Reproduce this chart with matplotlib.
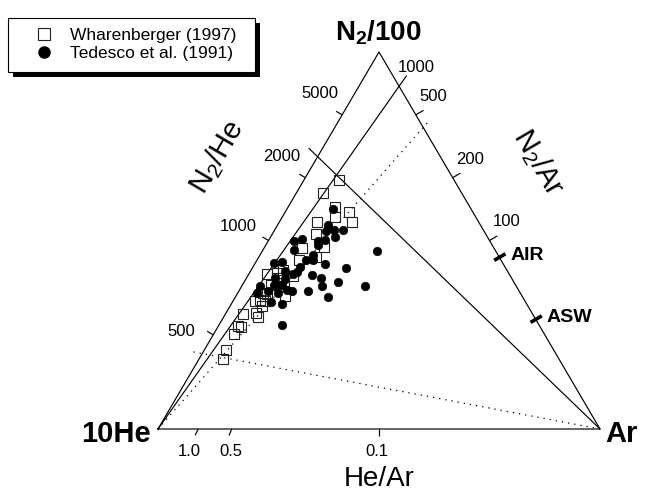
import numpy as np
import matplotlib
matplotlib.use('Agg')
import matplotlib.pyplot as plt
from matplotlib import patheffects as pe
from matplotlib.patches import Rectangle

plt.rcParams['font.family'] = ['Liberation Sans', 'DejaVu Sans']
plt.rcParams['mathtext.fontset'] = 'custom'
plt.rcParams['mathtext.rm'] = 'Liberation Sans'
plt.rcParams['mathtext.bf'] = 'Liberation Sans:bold'
plt.rcParams['mathtext.it'] = 'Liberation Sans:italic'

# ---- data: ternary percentages (N2/100, Ar); 10He = remainder ----
wh_n2 = [66.0, 62.5, 58.9, 56.2, 57.6, 55.0, 55.0, 51.7, 48.3, 48.1, 45.6, 44.8,
         41.1, 40.1, 40.6, 42.2, 37.8, 38.2, 35.8, 35.4, 34.2, 33.9, 32.7, 30.4,
         30.7, 29.8, 27.1, 27.4, 25.1, 21.0, 18.6, 33.9, 41.4, 36.0]
wh_ar = [8.0, 6.0, 10.6, 12.0, 14.3, 16.3, 8.5, 9.9, 13.3, 8.5, 12.9, 9.4,
         4.0, 6.9, 10.3, 7.2, 9.5, 6.5, 6.7, 11.0, 6.0, 4.9, 7.1, 4.1,
         6.8, 7.8, 5.2, 4.5, 4.7, 4.8, 5.5, 7.3, 6.2, 5.8]

te_n2 = [58.4, 54.1, 52.8, 52.5, 52.8, 50.8, 49.9, 50.4, 49.9, 50.1, 47.1, 47.5,
         48.8, 46.2, 44.8, 44.8, 44.0, 44.3, 43.8, 42.7, 43.0, 41.9, 41.6, 41.1,
         40.9, 40.1, 37.9, 38.9, 37.9, 37.8, 40.1, 38.3, 37.0, 38.2, 36.0, 36.5,
         36.1, 36.5, 36.5, 34.9, 33.7, 33.2, 27.7, 39.7, 38.3]
te_ar = [10.4, 11.4, 13.4, 11.8, 15.5, 14.7, 5.8, 7.4, 11.3, 12.7, 26.0, 7.0,
         11.8, 12.0, 12.7, 11.0, 4.2, 5.9, 15.9, 21.2, 10.6, 7.8, 10.6, 10.0,
         14.4, 16.9, 18.1, 21.3, 27.9, 4.2, 6.4, 8.9, 10.6, 7.8, 4.3, 6.7,
         9.2, 12.0, 15.7, 20.9, 8.8, 11.5, 14.2, 8.9, 7.0]

he_ar_ticks = [1.0, 0.5, 0.1]
he_ar_labels = ['1.0', '0.5', '0.1']
n2_he_ticks = [5000, 2000, 1000, 333]
n2_he_labels = ['5000', '2000', '1000', '500']
n2_ar_ticks = [1000, 500, 200, 100]
n2_ar_labels = ['1000', '500', '200', '100']
ref_names = ['AIR', 'ASW']
ref_n2_ar = [83.6, 41.0]
he_line_ratios = [1000, 400]     # N2/Ar lines from 10He apex
ar_line_ratios = [2600, 250]     # N2/He lines from Ar apex
line_styles = ['-', ':']

# ---- geometry (pixel frame of the 646x492 canvas) ----
X0, XW, Y0, YH = 158.0, 442.0, 429.0, 377.0

def tern(n, a):
    return a + n / 2.0, n

def to_px(X, Y):
    return X0 + XW * X, Y0 - YH * Y

def from_px(px, py):
    return (px - X0) / XW, (Y0 - py) / YH

fig = plt.figure(figsize=(6.46, 4.92), dpi=100)
ax = fig.add_axes([0, 0, 1, 1])
ax.set_xlim(-X0 / XW, (646 - X0) / XW)
ax.set_ylim((Y0 - 492) / YH, Y0 / YH)
ax.axis('off')

lw = 0.85
ax.plot([0, 1, 0.5, 0], [0, 0, 1, 0], color='k', lw=lw, zorder=2)

def dotted(style):
    return (0, (1, 4)) if style == ':' else '-'

ext = {'-': 1.03, ':': 1.025}
for R, st in zip(he_line_ratios, line_styles):
    r = R / 100.0
    k = ext[st]
    X, Y = tern(k * r / (1 + r), k / (1 + r))
    ax.plot([0, X], [0, Y], color='k', lw=lw if st == '-' else 0.9,
            linestyle=dotted(st), zorder=2)
for R, st in zip(ar_line_ratios, line_styles):
    r = R / 1000.0
    s = ext[st]
    X, Y = tern(s * r / (1 + r), 1 - s)
    ax.plot([1, X], [0, Y], color='k', lw=lw if st == '-' else 0.9,
            linestyle=dotted(st), zorder=2)

apex_px = np.array(to_px(0.5, 1.0))
he_px = np.array(to_px(0, 0))
ar_px = np.array(to_px(1, 0))

def seg(p, u, l0, l1, **kw):
    a = p + u * l0
    b = p + u * l1
    A = from_px(*a)
    B = from_px(*b)
    ax.plot([A[0], B[0]], [A[1], B[1]], color='k', solid_capstyle='butt', **kw)

# bottom ticks (He/Ar), radial from N2 apex
blab_off = {'1.0': -9, '0.5': -1, '0.1': -2}
for r, lab in zip(he_ar_ticks, he_ar_labels):
    X = 1.0 / (1 + 10 * r)
    p = np.array(to_px(X, 0))
    u = (p - apex_px) / np.linalg.norm(p - apex_px)
    seg(p, u, 0, 7, lw=lw)
    ax.text(*from_px(p[0] + blab_off[lab], 456), lab, ha='center', va='baseline', fontsize=12)

# left ticks (N2/He)
eL = apex_px - he_px
nL = np.array([eL[1], -eL[0]]) / np.linalg.norm(eL)
if nL[0] > 0:
    nL = -nL
left_lab_pos = {'5000': (320, 92), '2000': (282, 155), '1000': (238, 225), '500': (181, 330)}
for R, lab in zip(n2_he_ticks, n2_he_labels):
    r = R / 1000.0
    n = r / (1 + r)
    p = np.array(to_px(*tern(n, 0)))
    seg(p, nL, 0, 7, lw=lw)
    lx, ly = left_lab_pos[lab]
    ax.text(*from_px(lx, ly + 6), lab, ha='center', va='baseline', fontsize=12)

# right ticks (N2/Ar)
eR = apex_px - ar_px
nR = np.array([-eR[1], eR[0]]) / np.linalg.norm(eR)
if nR[0] < 0:
    nR = -nR
for R, lab in zip(n2_ar_ticks, n2_ar_labels):
    r = R / 100.0
    n = r / (1 + r)
    p = np.array(to_px(*tern(n, 1 - n)))
    if R != he_line_ratios[0]:
        seg(p, nR, 0, 9, lw=lw)
    ax.text(*from_px(p[0] + 17, p[1] - 20 + 6), lab, ha='center', va='baseline', fontsize=12)

for name, R in zip(ref_names, ref_n2_ar):
    r = R / 100.0
    n = r / (1 + r)
    p = np.array(to_px(*tern(n, 1 - n)))
    seg(p, nR, -6, 7, lw=2.6)
    ax.text(*from_px(p[0] + 11, p[1] + 3), name, ha='left', va='baseline',
            fontsize=14, fontweight='bold')

# data
wx, wy = tern(np.array(wh_n2) / 100, np.array(wh_ar) / 100)
tx, ty = tern(np.array(te_n2) / 100, np.array(te_ar) / 100)
ax.plot(wx, wy, linestyle='none', marker='s', ms=7.8, mfc='none', mec='#222222',
        mew=0.8, zorder=3)
ax.plot(tx, ty, linestyle='none', marker='o', ms=6.3, mfc='k', mec='k', mew=0.3,
        zorder=4)

# vertex labels
ax.text(*from_px(378, 40), r'$\mathbf{N_2/100}$', ha='center', va='baseline', fontsize=20)
ax.text(*from_px(151, 442), '10He', ha='right', va='baseline', fontsize=21, fontweight='bold')
ax.text(*from_px(605, 442), 'Ar', ha='left', va='baseline', fontsize=21, fontweight='bold')
ax.text(*from_px(379, 486), 'He/Ar', ha='center', va='baseline', fontsize=20)
ang = np.degrees(np.arctan2(-eL[1], eL[0]))
ax.text(*from_px(217, 157), r'$\mathrm{N_2/He}$', ha='center', va='center',
        rotation=ang, rotation_mode='anchor', fontsize=21)
ax.text(*from_px(539, 162), r'$\mathrm{N_2/Ar}$', ha='center', va='center',
        rotation=-ang, rotation_mode='anchor', fontsize=21)

# legend box
bx0, by0 = from_px(8, 72)
bx1, by1 = from_px(255, 18)
rect = Rectangle((bx0, by0), bx1 - bx0, by1 - by0, facecolor='white', edgecolor='k',
                 lw=0.8, zorder=5)
rect.set_path_effects([pe.SimplePatchShadow(offset=(3.6, -3.6), shadow_rgbFace='k', alpha=1.0),
                       pe.Normal()])
ax.add_patch(rect)
mx, my1 = from_px(44, 34)
_, my2 = from_px(44, 52)
ax.plot([mx], [my1], marker='s', ms=8, mfc='white', mec='#222222', mew=0.8, zorder=6)
ax.plot([mx], [my2], marker='o', ms=8, mfc='k', mec='k', zorder=6)
ax.text(*from_px(70, 40), 'Wharenberger (1997)', ha='left', va='baseline', fontsize=12.5, zorder=6)
ax.text(*from_px(70, 58), 'Tedesco et al. (1991)', ha='left', va='baseline', fontsize=12.5, zorder=6)

fig.savefig('out.png', dpi=100)
